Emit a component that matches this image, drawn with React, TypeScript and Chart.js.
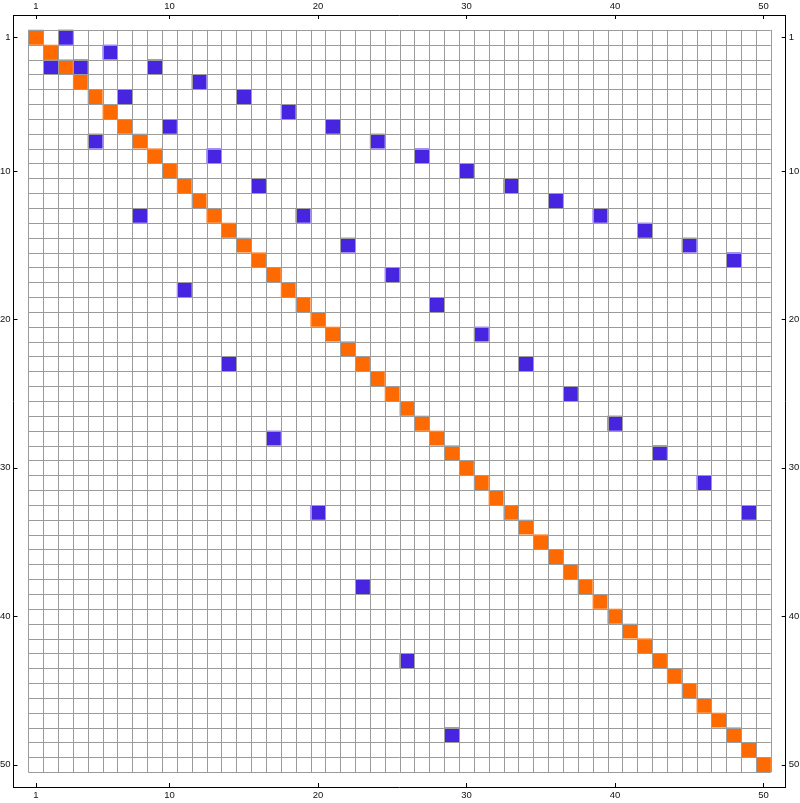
import React, { useEffect, useRef } from "react";
import { Chart, registerables } from "chart.js";

Chart.register(...registerables);

const N = 50;

// Orange cells: the main diagonal (row = column)
const diagRows = [1,2,3,4,5,6,7,8,9,10,11,12,13,14,15,16,17,18,19,20,21,22,23,24,25,26,27,28,29,30,31,32,33,34,35,36,37,38,39,40,41,42,43,44,45,46,47,48,49,50];
const diagCols = [1,2,3,4,5,6,7,8,9,10,11,12,13,14,15,16,17,18,19,20,21,22,23,24,25,26,27,28,29,30,31,32,33,34,35,36,37,38,39,40,41,42,43,44,45,46,47,48,49,50];

// Blue cells
const blueRows = [1,2,3,4,5,6,7,8,9,10,11,12,13,14,15,16,
  3,5,7,9,11,13,15,17,19,21,23,25,27,29,31,33,
  3,8,13,18,23,28,33,38,43,48];
const blueCols = [3,6,9,12,15,18,21,24,27,30,33,36,39,42,45,48,
  4,7,10,13,16,19,22,25,28,31,34,37,40,43,46,49,
  2,5,8,11,14,17,20,23,26,29];

const tickValues = [1, 10, 20, 30, 40, 50];

const ORANGE = "#FF6A00";
const BLUE = "#4624E0";
const GRID = "#9b9b9b";
const FONT = { family: "'Liberation Sans', Arial, sans-serif", size: 9.5 };

const cellRadius = (ctx: any) => {
  const s = ctx.chart.scales.x;
  if (!s) return 5;
  const w = Math.abs(s.getPixelForValue(1) - s.getPixelForValue(0));
  return w / Math.SQRT2;
};

const gridPlugin = {
  id: "arrayGrid",
  afterDatasetsDraw(chart: any) {
    const { ctx } = chart;
    const x = chart.scales.x;
    const y = chart.scales.y;
    ctx.save();
    ctx.strokeStyle = GRID;
    ctx.lineWidth = 1;
    ctx.beginPath();
    const x0 = x.getPixelForValue(0.5);
    const x1 = x.getPixelForValue(N + 0.5);
    const y0 = y.getPixelForValue(0.5);
    const y1 = y.getPixelForValue(N + 0.5);
    for (let k = 0; k <= N; k++) {
      const px = Math.round(x.getPixelForValue(k + 0.5)) + 0.5;
      ctx.moveTo(px, y0);
      ctx.lineTo(px, y1);
      const py = Math.round(y.getPixelForValue(k + 0.5)) + 0.5;
      ctx.moveTo(x0, py);
      ctx.lineTo(x1, py);
    }
    ctx.stroke();

    const { left, right, top, bottom } = chart.chartArea;
    ctx.strokeStyle = "#000";
    ctx.beginPath();
    for (const v of tickValues) {
      const px = Math.round(x.getPixelForValue(v)) + 0.5;
      ctx.moveTo(px, top);
      ctx.lineTo(px, top + 4);
      ctx.moveTo(px, bottom);
      ctx.lineTo(px, bottom - 4);
      const py = Math.round(y.getPixelForValue(v)) + 0.5;
      ctx.moveTo(left, py);
      ctx.lineTo(left + 4, py);
      ctx.moveTo(right, py);
      ctx.lineTo(right - 4, py);
    }
    ctx.stroke();
    ctx.restore();
  },
};

const setTicks = (scale: any) => {
  scale.ticks = tickValues.map((v) => ({ value: v }));
};

const labelAxis = (position: string, axis: "x" | "y", size: number, reverse = false) => ({
  type: "linear",
  position,
  axis,
  min: -0.5,
  max: N + 1.5,
  reverse,
  afterBuildTicks: setTicks,
  afterFit: (scale: any) => {
    if (axis === "x") scale.height = size;
    else scale.width = size;
  },
  grid: { drawOnChartArea: false, drawTicks: false },
  border: { display: true, color: "#000", width: 1 },
  ticks: {
    autoSkip: false,
    maxRotation: 0,
    padding: 3,
    color: "#111",
    font: FONT,
    callback: (v: any) => String(v),
  },
});

export default function App() {
  const ref = useRef<HTMLCanvasElement>(null);
  useEffect(() => {
    if (!ref.current) return;
    const diag = diagRows.map((r, i) => ({ x: diagCols[i], y: r }));
    const blue = blueRows.map((r, i) => ({ x: blueCols[i], y: r }));
    const chart = new Chart(ref.current, {
      type: "scatter",
      data: {
        datasets: [
          {
            data: diag,
            pointStyle: "rect",
            backgroundColor: ORANGE,
            borderWidth: 0,
            pointRadius: cellRadius,
            pointHoverRadius: cellRadius,
          },
          {
            data: blue,
            pointStyle: "rect",
            backgroundColor: BLUE,
            borderWidth: 0,
            pointRadius: cellRadius,
            pointHoverRadius: cellRadius,
          },
        ],
      },
      options: {
        animation: false,
        responsive: true,
        maintainAspectRatio: false,
        layout: { padding: 0 },
        plugins: { legend: { display: false }, tooltip: { enabled: false } },
        scales: {
          x: labelAxis("bottom", "x", 16) as any,
          x2: labelAxis("top", "x", 15) as any,
          y: labelAxis("left", "y", 13.5, true) as any,
          y2: labelAxis("right", "y", 14.3, true) as any,
        },
      },
      plugins: [gridPlugin],
    });
    return () => chart.destroy();
  }, []);
  return (
    <div style={{ position: "fixed", left: 0, top: 0, width: 800, height: 803, background: "#fff" }}>
      <canvas ref={ref} />
    </div>
  );
}
